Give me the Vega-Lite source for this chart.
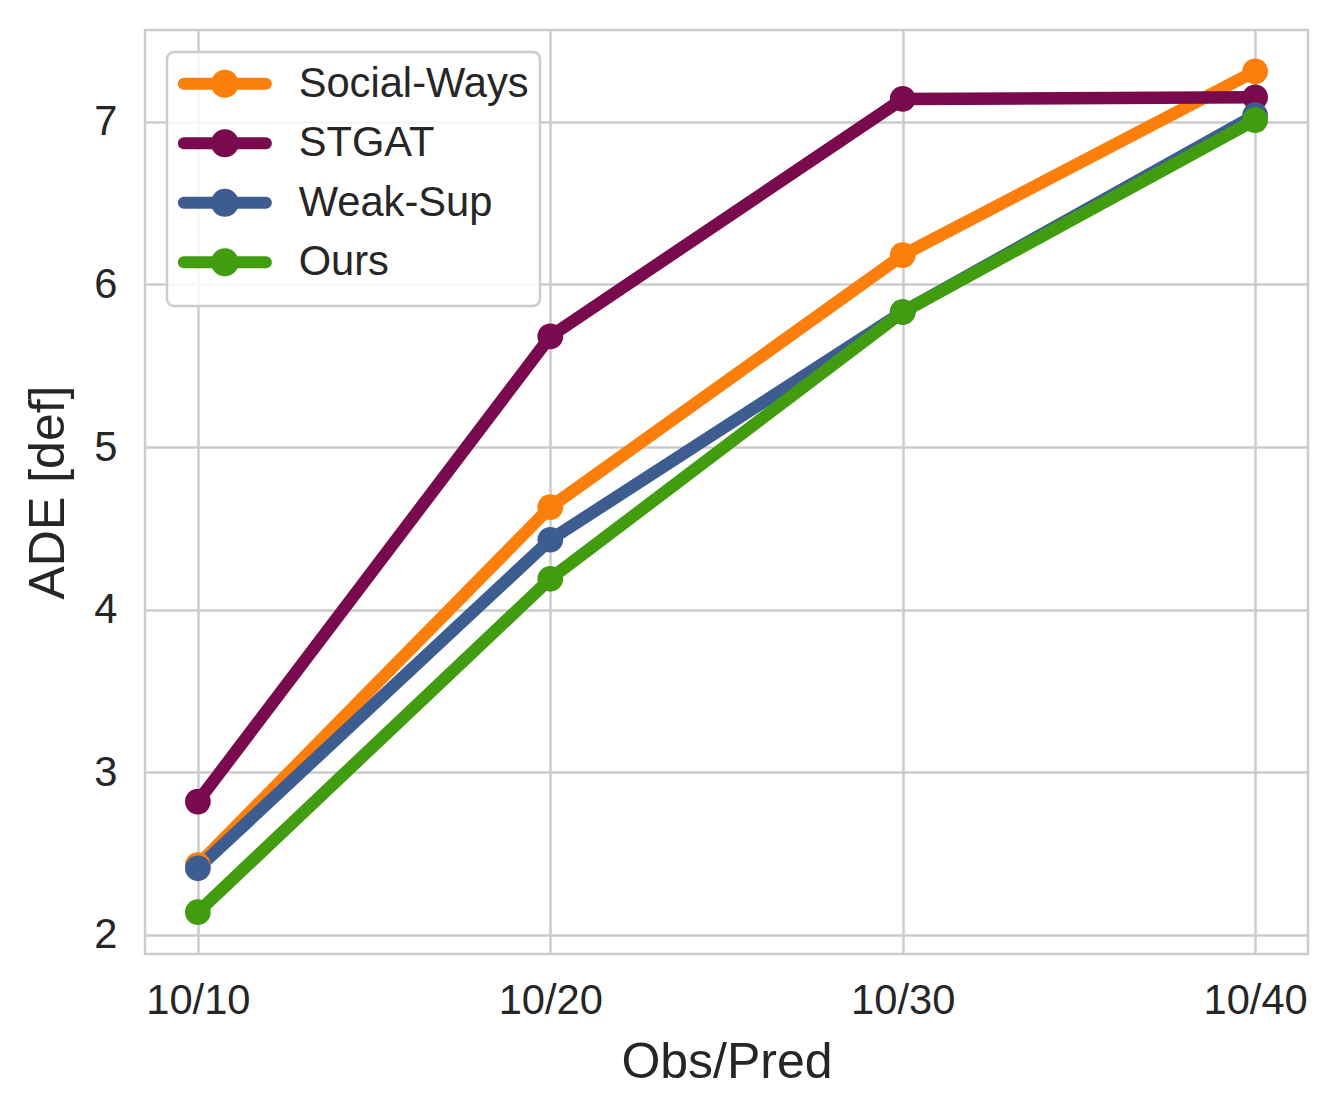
{
  "$schema": "https://vega.github.io/schema/vega-lite/v6.json",
  "width": 1163,
  "height": 924,
  "autosize": {"type": "none"},
  "padding": {"left": 145, "top": 30, "right": 30, "bottom": 160},
  "background": "white",
  "config": {
    "font": "Liberation Sans",
    "view": {"stroke": "#cccccc", "strokeWidth": 2.5},
    "axis": {
      "grid": true,
      "gridColor": "#cccccc",
      "gridWidth": 2.5,
      "domain": false,
      "ticks": false,
      "tickSize": 0,
      "labelFontSize": 41.67,
      "labelColor": "#262626",
      "labelFont": "Liberation Sans",
      "titleFontSize": 50,
      "titleFontWeight": "normal",
      "titleColor": "#262626",
      "titleFont": "Liberation Sans"
    }
  },
  "data": {
    "values": [
      {"method": "Social-Ways", "obs_pred": "10/10", "ade": 2.43},
      {"method": "Social-Ways", "obs_pred": "10/20", "ade": 4.63},
      {"method": "Social-Ways", "obs_pred": "10/30", "ade": 6.18},
      {"method": "Social-Ways", "obs_pred": "10/40", "ade": 7.31},
      {"method": "STGAT", "obs_pred": "10/10", "ade": 2.82},
      {"method": "STGAT", "obs_pred": "10/20", "ade": 5.68},
      {"method": "STGAT", "obs_pred": "10/30", "ade": 7.14},
      {"method": "STGAT", "obs_pred": "10/40", "ade": 7.15},
      {"method": "Weak-Sup", "obs_pred": "10/10", "ade": 2.41},
      {"method": "Weak-Sup", "obs_pred": "10/20", "ade": 4.43},
      {"method": "Weak-Sup", "obs_pred": "10/30", "ade": 5.83},
      {"method": "Weak-Sup", "obs_pred": "10/40", "ade": 7.04},
      {"method": "Ours", "obs_pred": "10/10", "ade": 2.14},
      {"method": "Ours", "obs_pred": "10/20", "ade": 4.19},
      {"method": "Ours", "obs_pred": "10/30", "ade": 5.83},
      {"method": "Ours", "obs_pred": "10/40", "ade": 7.01}
    ]
  },
  "mark": {
    "type": "line",
    "strokeWidth": 12.5,
    "strokeCap": "round",
    "strokeJoin": "round",
    "point": {"filled": true, "size": 661, "opacity": 1}
  },
  "encoding": {
    "x": {
      "field": "obs_pred",
      "type": "ordinal",
      "scale": {"type": "point", "padding": 0.15},
      "axis": {"title": "Obs/Pred", "labelAngle": 0, "labelPadding": 26, "titlePadding": 16}
    },
    "y": {
      "field": "ade",
      "type": "quantitative",
      "scale": {"domain": [1.883, 7.564], "nice": false, "zero": false},
      "axis": {"title": "ADE [def]", "values": [2, 3, 4, 5, 6, 7], "labelPadding": 28, "titlePadding": 20}
    },
    "color": {
      "field": "method",
      "type": "nominal",
      "scale": {
        "domain": ["Social-Ways", "STGAT", "Weak-Sup", "Ours"],
        "range": ["#fd7f0b", "#780a4d", "#3d5d91", "#429c10"]
      },
      "legend": {
        "orient": "none",
        "legendX": 22,
        "legendY": 22,
        "title": null,
        "padding": 11,
        "fillColor": "rgba(255,255,255,0.8)",
        "strokeColor": "#cccccc",
        "cornerRadius": 7,
        "labelFontSize": 41.67,
        "labelColor": "#262626",
        "labelFont": "Liberation Sans",
        "labelLimit": 0,
        "labelOffset": 79,
        "rowPadding": -5.5,
        "symbolType": "M-1.07,0H4.79M1.287,0A0.571,0.571 0 1,0 2.429,0A0.571,0.571 0 1,0 1.287,0Z",
        "symbolSize": 784,
        "symbolStrokeWidth": 12,
        "symbolOpacity": 1,
        "encode": {
          "legend": {
            "update": {"strokeWidth": {"value": 2.5}}
          },
          "symbols": {
            "update": {
              "fill": {"scale": "color", "field": "value"},
              "stroke": {"scale": "color", "field": "value"},
              "strokeCap": {"value": "round"}
            }
          }
        }
      }
    }
  }
}
